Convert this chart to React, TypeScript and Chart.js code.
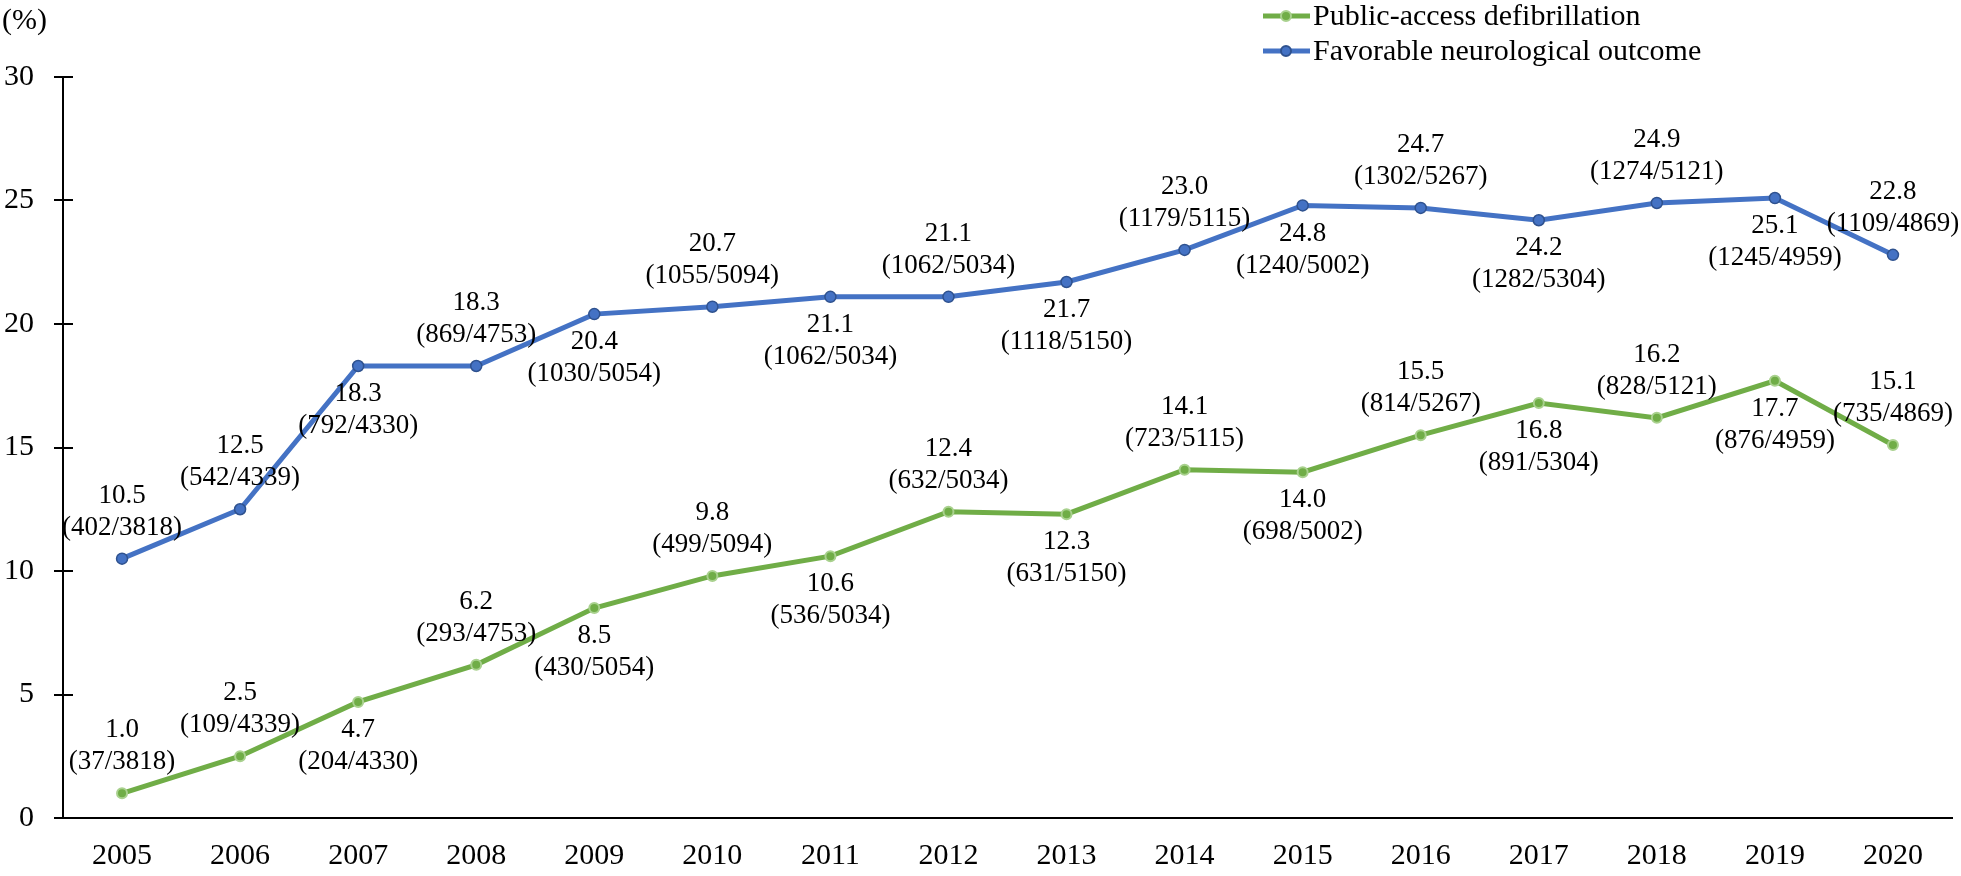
import React, { useEffect, useRef } from "react";
import { Chart, registerables } from "chart.js";

Chart.register(...registerables);

const years = ["2005", "2006", "2007", "2008", "2009", "2010", "2011", "2012", "2013", "2014", "2015", "2016", "2017", "2018", "2019", "2020"];
const padValues = [1.0, 2.5, 4.7, 6.2, 8.5, 9.8, 10.6, 12.4, 12.3, 14.1, 14.0, 15.5, 16.8, 16.2, 17.7, 15.1];
const padCounts = ["37/3818", "109/4339", "204/4330", "293/4753", "430/5054", "499/5094", "536/5034", "632/5034", "631/5150", "723/5115", "698/5002", "814/5267", "891/5304", "828/5121", "876/4959", "735/4869"];
const favValues = [10.5, 12.5, 18.3, 18.3, 20.4, 20.7, 21.1, 21.1, 21.7, 23.0, 24.8, 24.7, 24.2, 24.9, 25.1, 22.8];
const favCounts = ["402/3818", "542/4339", "792/4330", "869/4753", "1030/5054", "1055/5094", "1062/5034", "1062/5034", "1118/5150", "1179/5115", "1240/5002", "1302/5267", "1282/5304", "1274/5121", "1245/4959", "1109/4869"];
const labelSide = ["above", "above", "below", "above", "below", "above", "below", "above", "below", "above", "below", "above", "below", "above", "below", "above"];
const yTicks = [0, 5, 10, 15, 20, 25, 30];
const seriesNames = ["Public-access defibrillation", "Favorable neurological outcome"];
const unitLabel = "(%)";

const FONT = "'Liberation Serif', 'Times New Roman', serif";
const GREEN = "#70AD47";
const GREEN_BORDER = "#A9D18E";
const BLUE = "#4472C4";
const BLUE_BORDER = "#2F528F";

const countsByDataset = [padCounts, favCounts];

const customPlugin = {
  id: "custom",
  afterDatasetsDraw(chart: any) {
    const ctx = chart.ctx;
    ctx.save();
    ctx.fillStyle = "#000";
    ctx.font = `27px ${FONT}`;
    ctx.textAlign = "center";
    ctx.textBaseline = "middle";
    chart.data.datasets.forEach((ds: any, di: number) => {
      const meta = chart.getDatasetMeta(di);
      meta.data.forEach((pt: any, i: number) => {
        const v = ds.data[i] as number;
        const l1 = v.toFixed(1);
        const l2 = `(${countsByDataset[di][i]})`;
        if (labelSide[i] === "above") {
          ctx.fillText(l1, pt.x, pt.y - 63);
          ctx.fillText(l2, pt.x, pt.y - 31);
        } else {
          ctx.fillText(l1, pt.x, pt.y + 28);
          ctx.fillText(l2, pt.x, pt.y + 60);
        }
      });
    });
    ctx.restore();
  },
  afterDraw(chart: any) {
    const ctx = chart.ctx;
    const ys = chart.scales.y;
    ctx.save();
    ctx.strokeStyle = "#000";
    ctx.lineWidth = 2;
    const ax = chart.chartArea.left;
    yTicks.forEach((t) => {
      const py = Math.round(ys.getPixelForValue(t));
      ctx.beginPath();
      ctx.moveTo(ax - 9, py);
      ctx.lineTo(ax + 10, py);
      ctx.stroke();
    });
    ctx.fillStyle = "#000";
    ctx.font = `30px ${FONT}`;
    ctx.textAlign = "left";
    ctx.textBaseline = "middle";
    ctx.fillText(unitLabel, 2, 21);
    const items = [
      { name: seriesNames[0], color: GREEN, border: GREEN_BORDER },
      { name: seriesNames[1], color: BLUE, border: BLUE_BORDER },
    ];
    items.forEach((it, k) => {
      const cy = 16 + k * 35;
      ctx.strokeStyle = it.color;
      ctx.lineWidth = 5;
      ctx.beginPath();
      ctx.moveTo(1263, cy);
      ctx.lineTo(1310, cy);
      ctx.stroke();
      ctx.beginPath();
      ctx.arc(1286, cy, 5, 0, Math.PI * 2);
      ctx.fillStyle = it.color;
      ctx.fill();
      ctx.lineWidth = 2;
      ctx.strokeStyle = it.border;
      ctx.stroke();
      ctx.fillStyle = "#000";
      ctx.font = `30px ${FONT}`;
      ctx.textAlign = "left";
      ctx.textBaseline = "middle";
      ctx.fillText(it.name, 1313, cy + 1);
    });
    ctx.restore();
  },
};

export default function App() {
  const ref = useRef<HTMLCanvasElement>(null);
  useEffect(() => {
    if (!ref.current) return;
    const chart = new Chart(ref.current, {
      type: "line",
      data: {
        labels: years,
        datasets: [
          {
            label: seriesNames[0],
            data: padValues,
            borderColor: GREEN,
            borderWidth: 5,
            backgroundColor: GREEN,
            pointBackgroundColor: GREEN,
            pointBorderColor: GREEN_BORDER,
            pointBorderWidth: 2,
            pointRadius: 5,
            tension: 0,
          },
          {
            label: seriesNames[1],
            data: favValues,
            borderColor: BLUE,
            borderWidth: 5,
            backgroundColor: BLUE,
            pointBackgroundColor: BLUE,
            pointBorderColor: BLUE_BORDER,
            pointBorderWidth: 1.5,
            pointRadius: 5.5,
            tension: 0,
          },
        ],
      },
      options: {
        responsive: false,
        animation: false,
        layout: { padding: { top: 77, right: 9, left: 0, bottom: 0 } },
        plugins: {
          legend: { display: false },
          tooltip: { enabled: false },
          title: { display: false },
        },
        scales: {
          x: {
            offset: true,
            grid: { display: false, drawTicks: false },
            border: { display: true, color: "#000", width: 2 },
            ticks: { color: "#000", font: { family: FONT, size: 30 }, padding: 20, maxRotation: 0, autoSkip: false },
            afterFit: (s: any) => {
              s.height = 58;
            },
          },
          y: {
            min: 0,
            max: 30,
            grid: { display: false, drawTicks: false },
            border: { display: true, color: "#000", width: 2 },
            ticks: { stepSize: 5, color: "#000", font: { family: FONT, size: 30 }, padding: 29 },
            afterFit: (s: any) => {
              s.width = 63;
            },
          },
        },
      },
      plugins: [customPlugin],
    });
    return () => chart.destroy();
  }, []);
  return (
    <div style={{ position: "absolute", left: 0, top: 0, width: 1961, height: 876, background: "#fff" }}>
      <canvas ref={ref} width={1961} height={876} />
    </div>
  );
}
